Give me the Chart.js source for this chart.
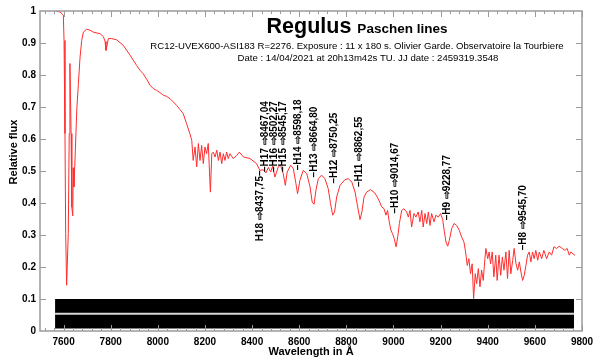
<!DOCTYPE html>
<html>
<head>
<meta charset="utf-8">
<script src="https://cdn.jsdelivr.net/npm/chart.js@4"></script>
<style>
  body { margin: 0; background: #fff; }
  canvas { display: block; }
</style>
</head>
<body>
<canvas id="spectrum" width="600" height="363"></canvas>
<script>
/*
 *  Spectrum data (wavelength in A, relative flux)
 */

const waves = [7568, 7585, 7599, 7602, 7606, 7609, 7613, 7620, 7624, 7627, 7632, 7635, 7639, 7641, 7644, 7649,
    7656, 7663, 7670, 7677, 7684, 7698, 7712, 7726, 7755, 7769, 7776, 7780, 7784, 7790, 7804, 7825, 7853, 7882,
    7910, 7924, 7938, 7954, 7967, 7980, 7995, 8009, 8023, 8038, 8052, 8080, 8094, 8108, 8122, 8136, 8144, 8150,
    8158, 8165, 8172, 8179, 8186, 8193, 8200, 8207, 8214, 8218, 8223, 8229, 8235, 8243, 8250, 8257, 8264, 8271,
    8278, 8285, 8292, 8299, 8306, 8320, 8335, 8346, 8363, 8391, 8419, 8433, 8447, 8459, 8469, 8479, 8487, 8497,
    8511, 8521, 8532, 8541, 8549, 8564, 8575, 8586, 8593, 8603, 8617, 8632, 8646, 8655, 8663, 8671, 8681, 8695,
    8709, 8723, 8733, 8742, 8750, 8759, 8773, 8794, 8808, 8823, 8837, 8848, 8858, 8866, 8875, 8886, 8903, 8921,
    8935, 8950, 8960, 8968, 8975, 8982, 8989, 8996, 9003, 9011, 9018, 9025, 9035, 9044, 9056, 9063, 9070, 9077,
    9087, 9095, 9105, 9112, 9120, 9126, 9134, 9141, 9148, 9155, 9162, 9172, 9180, 9190, 9200, 9209, 9215, 9223,
    9230, 9237, 9247, 9257, 9268, 9279, 9289, 9299, 9306, 9313, 9320, 9327, 9334, 9340, 9347, 9353, 9360, 9367,
    9374, 9381, 9388, 9392, 9400, 9406, 9412, 9419, 9426, 9434, 9440, 9448, 9455, 9462, 9469, 9477, 9484, 9491,
    9498, 9506, 9512, 9520, 9527, 9534, 9541, 9548, 9555, 9562, 9569, 9576, 9583, 9590, 9597, 9604, 9612, 9619,
    9629, 9638, 9650, 9661, 9671, 9681, 9692, 9703, 9716, 9728, 9737, 9746, 9753, 9763, 9770];

const flux = [1.0, 0.997, 0.987, 0.908, 0.617, 0.305, 0.143, 0.305, 0.617, 0.836, 0.617, 0.387, 0.36, 0.51, 0.45, 0.544,
    0.69, 0.774, 0.856, 0.908, 0.934, 0.943, 0.94, 0.934, 0.929, 0.92, 0.905, 0.877, 0.89, 0.914, 0.914, 0.91, 0.893, 0.862,
    0.83, 0.815, 0.804, 0.785, 0.768, 0.758, 0.752, 0.745, 0.737, 0.733, 0.726, 0.705, 0.692, 0.679, 0.648, 0.617, 0.596, 0.533,
    0.575, 0.513, 0.586, 0.533, 0.58, 0.523, 0.575, 0.554, 0.586, 0.52, 0.434, 0.554, 0.559, 0.544, 0.565, 0.533, 0.559, 0.523,
    0.554, 0.533, 0.559, 0.539, 0.554, 0.539, 0.549, 0.559, 0.544, 0.539, 0.523, 0.502, 0.504, 0.494, 0.511, 0.497, 0.515, 0.481,
    0.513, 0.518, 0.492, 0.455, 0.497, 0.518, 0.507, 0.461, 0.429, 0.471, 0.502, 0.492, 0.45, 0.403, 0.396, 0.44, 0.476, 0.487,
    0.476, 0.445, 0.398, 0.362, 0.372, 0.419, 0.455, 0.473, 0.476, 0.466, 0.434, 0.388, 0.348, 0.372, 0.419, 0.434, 0.442, 0.431,
    0.414, 0.388, 0.382, 0.362, 0.377, 0.341, 0.315, 0.304, 0.289, 0.263, 0.294, 0.336, 0.377, 0.382, 0.372, 0.356, 0.377, 0.325,
    0.367, 0.356, 0.372, 0.341, 0.377, 0.325, 0.367, 0.336, 0.372, 0.33, 0.367, 0.341, 0.362, 0.356, 0.367, 0.348, 0.315, 0.278,
    0.265, 0.283, 0.32, 0.336, 0.33, 0.315, 0.294, 0.278, 0.247, 0.205, 0.226, 0.179, 0.21, 0.101, 0.179, 0.148, 0.195, 0.138,
    0.19, 0.158, 0.226, 0.258, 0.226, 0.247, 0.21, 0.247, 0.169, 0.237, 0.158, 0.237, 0.174, 0.231, 0.19, 0.247, 0.164, 0.252,
    0.179, 0.221, 0.258, 0.21, 0.19, 0.216, 0.184, 0.158, 0.174, 0.205, 0.237, 0.247, 0.216, 0.247, 0.226, 0.252, 0.221, 0.247,
    0.226, 0.252, 0.226, 0.247, 0.237, 0.263, 0.258, 0.265, 0.258, 0.252, 0.258, 0.237, 0.247, 0.24, 0.237];

// 2D spectrum strip at the bottom
const stripWaves = [7564, 9766];
const stripTop = 0.1, stripBottom = 0.008, stripSlit = 0.054;

// Paschen line labels
const lineNames = ['H18', 'H17', 'H16', 'H15', 'H14', 'H13', 'H12', 'H11', 'H10', 'H9', 'H8'];
const lineWaves = ['8437,75', '8467,04', '8502,27', '8545,17', '8598,18', '8664,80', '8750,25', '8862,55', '9014,67', '9228,77', '9545,70'];
const labelWaves = [8433, 8455, 8493, 8531, 8595, 8663, 8747, 8854, 9006, 9227, 9549];
const labelFlux = [0.502, 0.497, 0.497, 0.497, 0.502, 0.48, 0.461, 0.45, 0.367, 0.346, 0.252];

// axis ticks
const xTicks = [7600, 7800, 8000, 8200, 8400, 8600, 8800, 9000, 9200, 9400, 9600, 9800];
const xMinor = 40;

const FONT = '"Liberation Sans", Arial, Helvetica, sans-serif';
const AXIS_GRAY = '#9a9a9a';

/*
 *  Plugins
 */

const framePlugin = {
    id: 'frame',
    afterDatasetsDraw(chart) {
        const c = chart.ctx, a = chart.chartArea;
        const xs = chart.scales.x, ys = chart.scales.y;
        c.save();
        c.strokeStyle = AXIS_GRAY;
        c.lineWidth = 1.5;
        c.strokeRect(a.left, a.top, a.right - a.left, a.bottom - a.top);
        c.lineWidth = 1;
        c.beginPath();
        for (let w = 7520; w <= xs.max; w += xMinor) {
            const x = Math.round(xs.getPixelForValue(w)) + 0.5;
            const len = (w % 200 === 0) ? 6 : 3;
            c.moveTo(x, a.bottom); c.lineTo(x, a.bottom - len);
            c.moveTo(x, a.top); c.lineTo(x, a.top + len);
        }
        for (let v = 1; v < 10; v++) {
            const y = Math.round(ys.getPixelForValue(v / 10)) + 0.5;
            c.moveTo(a.left, y); c.lineTo(a.left + 6, y);
            c.moveTo(a.right, y); c.lineTo(a.right - 6, y);
        }
        c.stroke();
        c.restore();
    }
};

const textPlugin = {
    id: 'texts',
    afterDraw(chart) {
        const c = chart.ctx;
        const xs = chart.scales.x, ys = chart.scales.y;
        c.save();
        c.fillStyle = '#000';

        // header
        c.textBaseline = 'alphabetic';
        c.textAlign = 'left';
        c.font = 'bold 21.5px ' + FONT;
        const w1 = c.measureText('Regulus ').width;
        c.font = 'bold 13.5px ' + FONT;
        const w2 = c.measureText('Paschen lines').width;
        let x0 = 357 - (w1 + w2) / 2;
        c.font = 'bold 21.5px ' + FONT;
        c.fillText('Regulus ', x0, 33);
        c.font = 'bold 13.5px ' + FONT;
        c.fillText('Paschen lines', x0 + w1, 33);

        c.textAlign = 'center';
        c.font = '9.6px ' + FONT;
        c.fillText('RC12-UVEX600-ASI183 R=2276. Exposure : 11 x 180 s. Olivier Garde. Observatoire la Tourbiere', 357, 49);
        c.fillText('Date : 14/04/2021 at 20h13m42s TU. JJ date : 2459319.3548', 368, 61);

        // axis titles
        c.font = 'bold 11px ' + FONT;
        c.textBaseline = 'middle';
        c.fillText('Wavelength in \u00c5', 311, 352);
        c.translate(14, 152);
        c.rotate(-Math.PI / 2);
        c.fillText('Relative flux', 0, 0);
        c.restore();

        // Paschen labels
        c.save();
        c.fillStyle = '#000';
        c.font = 'bold 10px ' + FONT;
        c.textBaseline = 'middle';
        for (let i = 0; i < lineNames.length; i++) {
            const px = xs.getPixelForValue(labelWaves[i]);
            const py = ys.getPixelForValue(labelFlux[i]);
            c.save();
            c.translate(px, py);
            c.rotate(-Math.PI / 2);
            if (lineNames[i] === 'H18') {
                c.textAlign = 'right';
                c.fillText(lineNames[i] + ' \u21e8' + lineWaves[i] + '\u2013', 0, 0);
            } else {
                c.textAlign = 'left';
                c.fillText('\u2013' + lineNames[i] + ' \u21e8' + lineWaves[i], 0, 0);
            }
            c.restore();
        }
        c.restore();
    }
};

/*
 *  Chart
 */

document.addEventListener("DOMContentLoaded", () => {
    const ctx = document.getElementById('spectrum').getContext('2d');
    new Chart(ctx, {
        type: 'line',
        data: {
            datasets: [
                {
                    label: 'spectrum',
                    data: waves.map((w, i) => ({x: w, y: flux[i]})),
                    borderColor: 'rgb(255,45,45)',
                    borderWidth: 1,
                    pointRadius: 0,
                    tension: 0,
                    fill: false,
                    order: 0
                },
                {
                    label: 'slit',
                    data: stripWaves.map(w => ({x: w, y: stripSlit})),
                    borderColor: '#d8d8d8',
                    borderWidth: 2,
                    pointRadius: 0,
                    fill: false,
                    order: 1
                },
                {
                    label: 'strip',
                    data: stripWaves.map(w => ({x: w, y: stripTop})),
                    borderColor: '#000',
                    borderWidth: 0,
                    backgroundColor: '#000',
                    pointRadius: 0,
                    fill: {value: stripBottom},
                    order: 2
                }
            ]
        },
        options: {
            responsive: false,
            animation: false,
            devicePixelRatio: 1,
            layout: { padding: { top: 11, right: 18, left: 0, bottom: 0 } },
            plugins: {
                legend: { display: false },
                tooltip: { enabled: false }
            },
            scales: {
                x: {
                    type: 'linear',
                    min: 7500,
                    max: 9800,
                    afterBuildTicks: s => { s.ticks = xTicks.map(v => ({value: v})); },
                    afterFit: s => { s.height = 32; },
                    grid: { display: false, drawTicks: false },
                    border: { display: false },
                    ticks: {
                        autoSkip: false,
                        maxRotation: 0,
                        padding: 5,
                        color: '#000',
                        font: { family: FONT, size: 10, weight: 'bold' },
                        callback: v => String(v)
                    }
                },
                y: {
                    min: 0,
                    max: 1,
                    afterFit: s => { s.width = 40; },
                    grid: { display: false, drawTicks: false },
                    border: { display: false },
                    ticks: {
                        stepSize: 0.1,
                        padding: 4,
                        color: '#000',
                        font: { family: FONT, size: 10, weight: 'bold' },
                        callback: v => (v === 0 ? '0' : (Math.abs(v - 1) < 1e-9 ? '1' : v.toFixed(1)))
                    }
                }
            }
        },
        plugins: [framePlugin, textPlugin]
    });
});
</script>
</body>
</html>
